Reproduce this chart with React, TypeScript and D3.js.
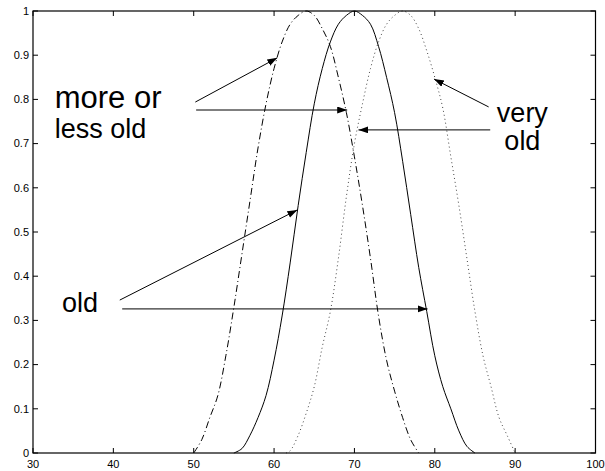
import React from 'react';
import * as d3 from 'd3';

// membership curves (age -> degree)
const oldX = [55, 56, 57, 58, 59, 60, 61, 62, 63, 64, 65, 66, 67, 68, 69, 70, 71, 72, 73, 74, 75, 76, 77, 78, 79, 80, 81, 82, 83, 84, 85];
const oldY = [0, 0.01, 0.04, 0.08, 0.13, 0.21, 0.31, 0.43, 0.56, 0.68, 0.79, 0.87, 0.93, 0.97, 0.99, 1, 0.99, 0.97, 0.92, 0.85, 0.77, 0.66, 0.54, 0.42, 0.32, 0.22, 0.15, 0.1, 0.05, 0.015, 0];

const moreLessX = [50, 51, 52, 53, 54, 55, 56, 57, 58, 59, 60, 61, 62, 63, 64, 65, 66, 67, 68, 69, 70, 71, 72, 73, 74, 75, 76, 77, 78];
const moreLessY = [0, 0.03, 0.08, 0.13, 0.22, 0.33, 0.45, 0.57, 0.69, 0.79, 0.87, 0.93, 0.97, 0.99, 1, 0.99, 0.96, 0.92, 0.85, 0.77, 0.67, 0.56, 0.44, 0.31, 0.21, 0.14, 0.08, 0.03, 0];

const veryOldX = [61.5, 62, 63, 64, 65, 66, 67, 68, 69, 70, 71, 72, 73, 74, 75, 76, 77, 78, 79, 80, 81, 82, 83, 84, 85, 86, 87, 88, 89, 90];
const veryOldY = [0, 0.005, 0.04, 0.09, 0.15, 0.24, 0.32, 0.44, 0.58, 0.7, 0.79, 0.87, 0.93, 0.97, 0.99, 1, 0.99, 0.96, 0.91, 0.85, 0.78, 0.67, 0.56, 0.44, 0.32, 0.22, 0.15, 0.08, 0.04, 0];

const xTicks = [30, 40, 50, 60, 70, 80, 90, 100];
const yTicks = [0, 0.1, 0.2, 0.3, 0.4, 0.5, 0.6, 0.7, 0.8, 0.9, 1];

// annotation labels and arrows, in data units
const labels = [
  { text: 'more or', x: 32.7, y: 0.78, anchor: 'start', size: 31 },
  { text: 'less old', x: 32.7, y: 0.713, anchor: 'start', size: 27 },
  { text: 'very', x: 90.9, y: 0.749, anchor: 'middle', size: 27 },
  { text: 'old', x: 90.9, y: 0.686, anchor: 'middle', size: 27 },
  { text: 'old', x: 33.6, y: 0.319, anchor: 'start', size: 27 },
];
const arrows = [
  { x1: 50.2, y1: 0.794, x2: 60.4, y2: 0.894 },
  { x1: 50.3, y1: 0.776, x2: 69.1, y2: 0.776 },
  { x1: 86.7, y1: 0.783, x2: 79.9, y2: 0.846 },
  { x1: 86.9, y1: 0.731, x2: 70.5, y2: 0.731 },
  { x1: 40.8, y1: 0.346, x2: 62.9, y2: 0.55 },
  { x1: 41.1, y1: 0.326, x2: 79.1, y2: 0.326 },
];

const width = 605;
const height = 471;

export default function App() {
  const x = d3.scaleLinear().domain([30, 100]).range([33, 595.5]);
  const y = d3.scaleLinear().domain([0, 1]).range([453, 11]);

  const line = d3
    .line<[number, number]>()
    .x((d) => x(d[0]))
    .y((d) => y(d[1]))
    .curve(d3.curveCatmullRom.alpha(0.5));

  const zip = (xs: number[], ys: number[]) => xs.map((v, i) => [v, ys[i]] as [number, number]);

  const [x0, x1] = x.range();
  const [y0, y1] = y.range();
  const tickLen = 5;
  const font = 'Liberation Sans, Arial, Helvetica, sans-serif';

  return (
    <svg
      width={width}
      height={height}
      style={{ position: 'absolute', left: 0, top: 0, background: '#fff' }}
      fontFamily={font}
    >
      <defs>
        <marker
          id="head"
          markerUnits="userSpaceOnUse"
          markerWidth={11}
          markerHeight={8}
          refX={10}
          refY={3.5}
          orient="auto"
        >
          <path d="M0,0 L10,3.5 L0,7 Z" fill="#000" />
        </marker>
      </defs>

      {/* curves */}
      <path d={line(zip(oldX, oldY)) || ''} fill="none" stroke="#000" strokeWidth={1} />
      <path
        d={line(zip(moreLessX, moreLessY)) || ''}
        fill="none"
        stroke="#000"
        strokeWidth={1}
        strokeDasharray="7 3 1 3"
      />
      <path
        d={line(zip(veryOldX, veryOldY)) || ''}
        fill="none"
        stroke="#444"
        strokeWidth={1}
        strokeDasharray="1 3"
      />

      {/* axes box */}
      <rect x={x0} y={y1} width={x1 - x0} height={y0 - y1} fill="none" stroke="#000" strokeWidth={1.2} />

      {xTicks.map((t) => (
        <g key={'x' + t}>
          <line x1={x(t)} x2={x(t)} y1={y0} y2={y0 - tickLen} stroke="#000" />
          <line x1={x(t)} x2={x(t)} y1={y1} y2={y1 + tickLen} stroke="#000" />
          <text x={x(t)} y={y0 + 15} fontSize={11} textAnchor="middle">
            {t}
          </text>
        </g>
      ))}
      {yTicks.map((t) => (
        <g key={'y' + t}>
          <line x1={x0} x2={x0 + tickLen} y1={y(t)} y2={y(t)} stroke="#000" />
          <line x1={x1} x2={x1 - tickLen} y1={y(t)} y2={y(t)} stroke="#000" />
          <text x={x0 - 4} y={y(t)} dy="0.35em" fontSize={11} textAnchor="end">
            {String(t)}
          </text>
        </g>
      ))}

      {/* annotations */}
      {arrows.map((a, i) => (
        <line
          key={'a' + i}
          x1={x(a.x1)}
          y1={y(a.y1)}
          x2={x(a.x2)}
          y2={y(a.y2)}
          stroke="#000"
          strokeWidth={1}
          markerEnd="url(#head)"
        />
      ))}
      {labels.map((l, i) => (
        <text key={'l' + i} x={x(l.x)} y={y(l.y)} fontSize={l.size} textAnchor={l.anchor}>
          {l.text}
        </text>
      ))}
    </svg>
  );
}
